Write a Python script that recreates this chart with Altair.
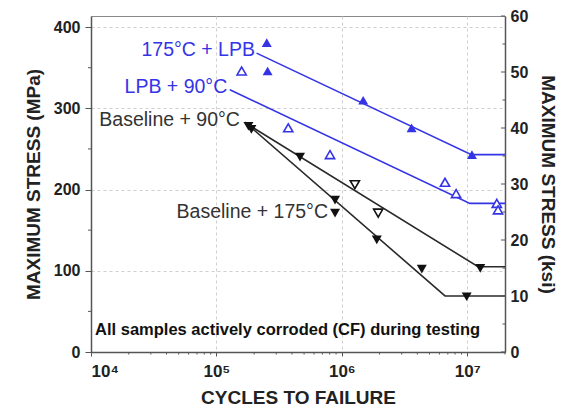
import altair as alt
import pandas as pd

# ---------------- data ----------------
# 175°C + LPB (filled blue up-triangles)
lpb175_x = [2.52e5, 2.56e5, 1.48e6, 3.6e6, 1.09e7]
lpb175_y = [381, 346, 310, 276, 243]
# LPB + 90°C (open blue up-triangles)
lpb90_x = [1.59e5, 3.74e5, 8.05e5, 6.65e6, 8.15e6, 1.72e7, 1.76e7]
lpb90_y = [346, 276, 243, 209, 195, 183, 175]
# Baseline markers (filled black down-triangles)
base_filled_x = [1.8e5, 1.9e5, 4.64e5, 8.83e5, 8.83e5, 1.9e6, 4.34e6, 1.27e7, 9.9e6]
base_filled_y = [278, 274, 240, 187, 171, 138, 102, 103, 68]
# Baseline markers (open black down-triangles)
base_open_x = [1.27e6, 1.95e6]
base_open_y = [206, 171]

# fitted curves
fit_lpb175_x = [2.09e5, 1.08e7, 2e7]
fit_lpb175_y = [368, 243, 243]
fit_lpb90_x = [1.28e5, 1.05e7, 2e7]
fit_lpb90_y = [323, 183, 183]
fit_base90_x = [1.79e5, 1.22e7, 2e7]
fit_base90_y = [280, 105, 105]
fit_base175_x = [1.69e5, 6.65e6, 2e7]
fit_base175_y = [283, 69, 69]

# annotations
ann_text = ["175°C + LPB", "LPB + 90°C", "Baseline + 90°C", "Baseline + 175°C",
            "All samples actively corroded (CF) during testing"]
ann_x = [2.03e5, 1.22e5, 1.54e5, 7.76e5, 1.077e4]
ann_y = [372, 326, 286, 172, 27]

# axis ticks
x_major = [1e4, 1e5, 1e6, 1e7]
x_minor = [m * 10 ** e for e in (4, 5, 6) for m in range(2, 10)] + [2e7]
mpa_major = [0, 100, 200, 300, 400]
mpa_minor = [50, 150, 250, 350]
ksi_major = [0, 10, 20, 30, 40, 50, 60]
ksi_minor = [5, 15, 25, 35, 45, 55]

MPA_MAX = 60 * 6.894757
BLUE = "#3434e6"
DARK = "#2a2a2a"
FONT = "Liberation Sans"

W, H = 414, 336

def df(xs, ys):
    return pd.DataFrame({"x": xs, "y": ys})

sup = "['⁰','¹','²','³','⁴','⁵','⁶','⁷','⁸','⁹']"
X = alt.X("x:Q",
          scale=alt.Scale(type="log", domain=[1e4, 2e7], nice=False),
          axis=alt.Axis(values=x_major, title="CYCLES TO FAILURE",
                        labelExpr="'10' + " + sup + "[round(log(datum.value)/LN10)]",
                        tickSize=4, labelPadding=7, titlePadding=9,
                        labelFontSize=17,
                        grid=True, gridDash=[3, 3], gridColor="#cfcfcf"))
Y = alt.Y("y:Q",
          scale=alt.Scale(domain=[0, MPA_MAX], nice=False, zero=True),
          axis=alt.Axis(values=mpa_major, title="MAXIMUM STRESS (MPa)",
                        tickSize=6, labelPadding=5, titlePadding=10,
                        grid=True, gridDash=[3, 3], gridColor="#cfcfcf"))

def fit_line(xs, ys, color):
    return alt.Chart(df(xs, ys)).mark_line(color=color, strokeWidth=1.6).encode(
        x=X, y=Y, order="x:Q")

lines = [
    fit_line(fit_lpb175_x, fit_lpb175_y, BLUE),
    fit_line(fit_lpb90_x, fit_lpb90_y, BLUE),
    fit_line(fit_base90_x, fit_base90_y, DARK),
    fit_line(fit_base175_x, fit_base175_y, DARK),
]

pts = [
    alt.Chart(df(lpb175_x, lpb175_y)).mark_point(
        shape="triangle-up", filled=True, color=BLUE, size=100, opacity=1).encode(x=X, y=Y),
    alt.Chart(df(lpb90_x, lpb90_y)).mark_point(
        shape="triangle-up", filled=False, color=BLUE, fill="white", fillOpacity=1,
        size=85, strokeWidth=1.6, opacity=1).encode(x=X, y=Y),
    alt.Chart(df(base_filled_x, base_filled_y)).mark_point(
        shape="triangle-down", filled=True, color="#111111", size=100, opacity=1).encode(x=X, y=Y),
    alt.Chart(df(base_open_x, base_open_y)).mark_point(
        shape="triangle-down", filled=False, color="#111111", fill="white", fillOpacity=1,
        size=85, strokeWidth=1.6, opacity=1).encode(x=X, y=Y),
]

ann = pd.DataFrame({"t": ann_text, "x": ann_x, "y": ann_y})

def label(i, color, size, weight="normal", align="right"):
    return alt.Chart(ann.iloc[[i]]).mark_text(
        color=color, fontSize=size, fontWeight=weight, align=align,
        baseline="middle", font=FONT).encode(x=X, y=Y, text="t:N")

texts = [
    label(0, BLUE, 19.5),
    label(1, BLUE, 19.5),
    label(2, "#333333", 19.5),
    label(3, "#333333", 19.5),
    label(4, "#111111", 16.5, "bold", "left"),
]

xminor = alt.Chart(pd.DataFrame({"x": x_minor})).mark_rule(color="#555", strokeWidth=1).encode(
    x=X, y=alt.value(H), y2=alt.value(H + 2.5))
yminor = alt.Chart(pd.DataFrame({"y": mpa_minor})).mark_rule(color="#555", strokeWidth=1).encode(
    y=Y, x=alt.value(-3), x2=alt.value(0))

inner = alt.layer(*lines, *pts, *texts, xminor, yminor)

Yk = alt.Y("k:Q", scale=alt.Scale(domain=[0, 60], nice=False),
           axis=alt.Axis(orient="right", values=ksi_major, title="MAXIMUM STRESS (ksi)",
                         ticks=False, labelPadding=5, titlePadding=10, titleAngle=90,
                         grid=False))
kmaj = alt.Chart(pd.DataFrame({"k": ksi_major})).mark_rule(color="#555", strokeWidth=1).encode(
    y=Yk, x=alt.value(W - 4), x2=alt.value(W))
kmin = alt.Chart(pd.DataFrame({"k": ksi_minor})).mark_rule(color="#555", strokeWidth=1).encode(
    y=Yk, x=alt.value(W - 2.5), x2=alt.value(W))
right = alt.layer(kmaj, kmin)

chart = alt.layer(inner, right).resolve_scale(y="independent").properties(
    width=W, height=H,
    padding={"left": 83, "top": 8, "right": 61, "bottom": 58},
    autosize=alt.AutoSizeParams(type="none"),
    background="white",
).configure_axis(
    labelFont=FONT, titleFont=FONT, labelFontWeight="bold", titleFontWeight="bold",
    labelFontSize=16, titleFontSize=19, labelColor="#222", titleColor="#222",
    domainColor="#555", domainWidth=1.5, tickColor="#555", tickWidth=1,
).configure_view(stroke="#8a8a8a", strokeWidth=1)

chart.save("out.html", embed_options={"renderer": "svg", "actions": False})
